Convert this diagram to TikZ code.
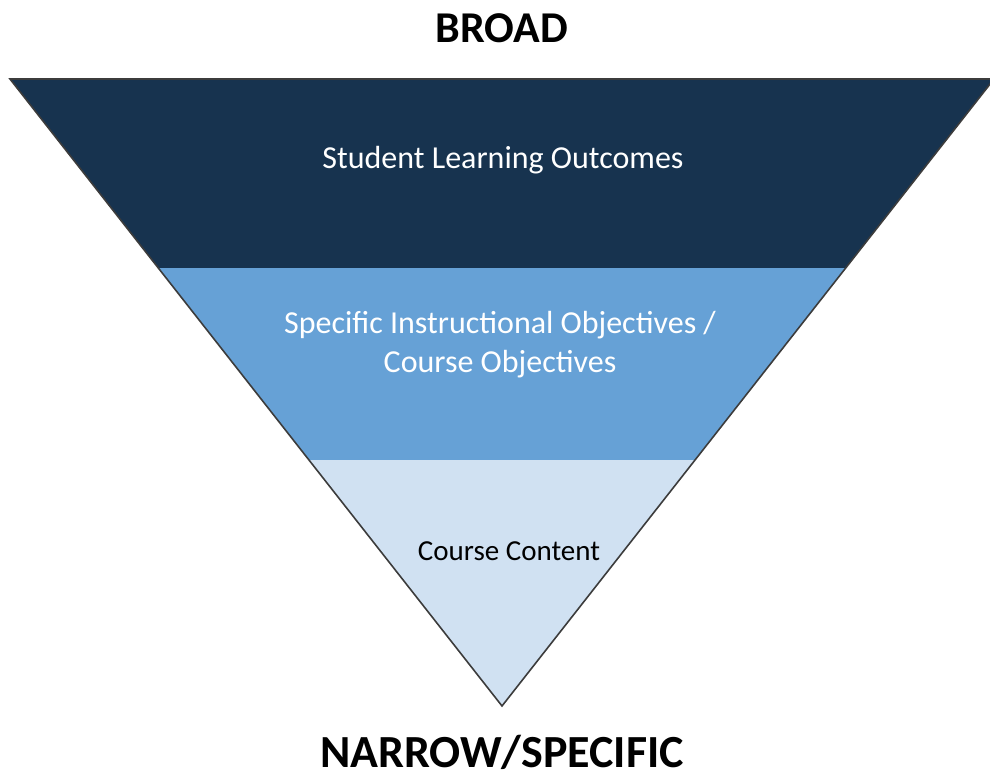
\documentclass[tikz,border=0pt]{standalone}
\usepackage{fontspec}
\setmainfont{Carlito}
\definecolor{navy}{RGB}{23,51,79}
\definecolor{midblue}{RGB}{102,161,214}
\definecolor{lightblue}{RGB}{208,225,242}
\definecolor{edge}{RGB}{60,60,60}
\begin{document}
\begin{tikzpicture}[x=1pt,y=-1pt,
  headtext/.style={text=black,inner sep=0pt},
  bandtext/.style={font=\fontsize{32}{39}\selectfont,align=center,inner sep=0pt}]
\useasboundingbox (0,0) rectangle (990,781);
\coordinate (tl) at (10,79);
\coordinate (tr) at (994,79);
\coordinate (ap) at (502,706);
\coordinate (l1) at (158.6,268);
\coordinate (r1) at (845.4,268);
\coordinate (l2) at (309.5,460);
\coordinate (r2) at (694.5,460);
\fill[navy] (tl) -- (tr) -- (r1) -- (l1) -- cycle;
\fill[midblue] (l1) -- (r1) -- (r2) -- (l2) -- cycle;
\fill[lightblue] (l2) -- (r2) -- (ap) -- cycle;
\draw[edge,line width=1.6pt,line join=miter] (tl) -- (tr) -- (ap) -- cycle;
\node[headtext,font=\fontsize{44}{48}\selectfont\bfseries] (broad) at (502,28) {BROAD};
\node[headtext,font=\fontsize{46}{50}\selectfont\bfseries] (narrow) at (502,752) {NARROW/SPECIFIC};
\node[bandtext,text=white] (slo) at (503,160) {Student Learning Outcomes};
\node[bandtext,text=white] (sio) at (500,345) {Specific Instructional Objectives /\\Course Objectives};
\node[bandtext,text=black,font=\fontsize{29}{34}\selectfont] (cc) at (509,551) {Course Content};
\end{tikzpicture}
\end{document}
